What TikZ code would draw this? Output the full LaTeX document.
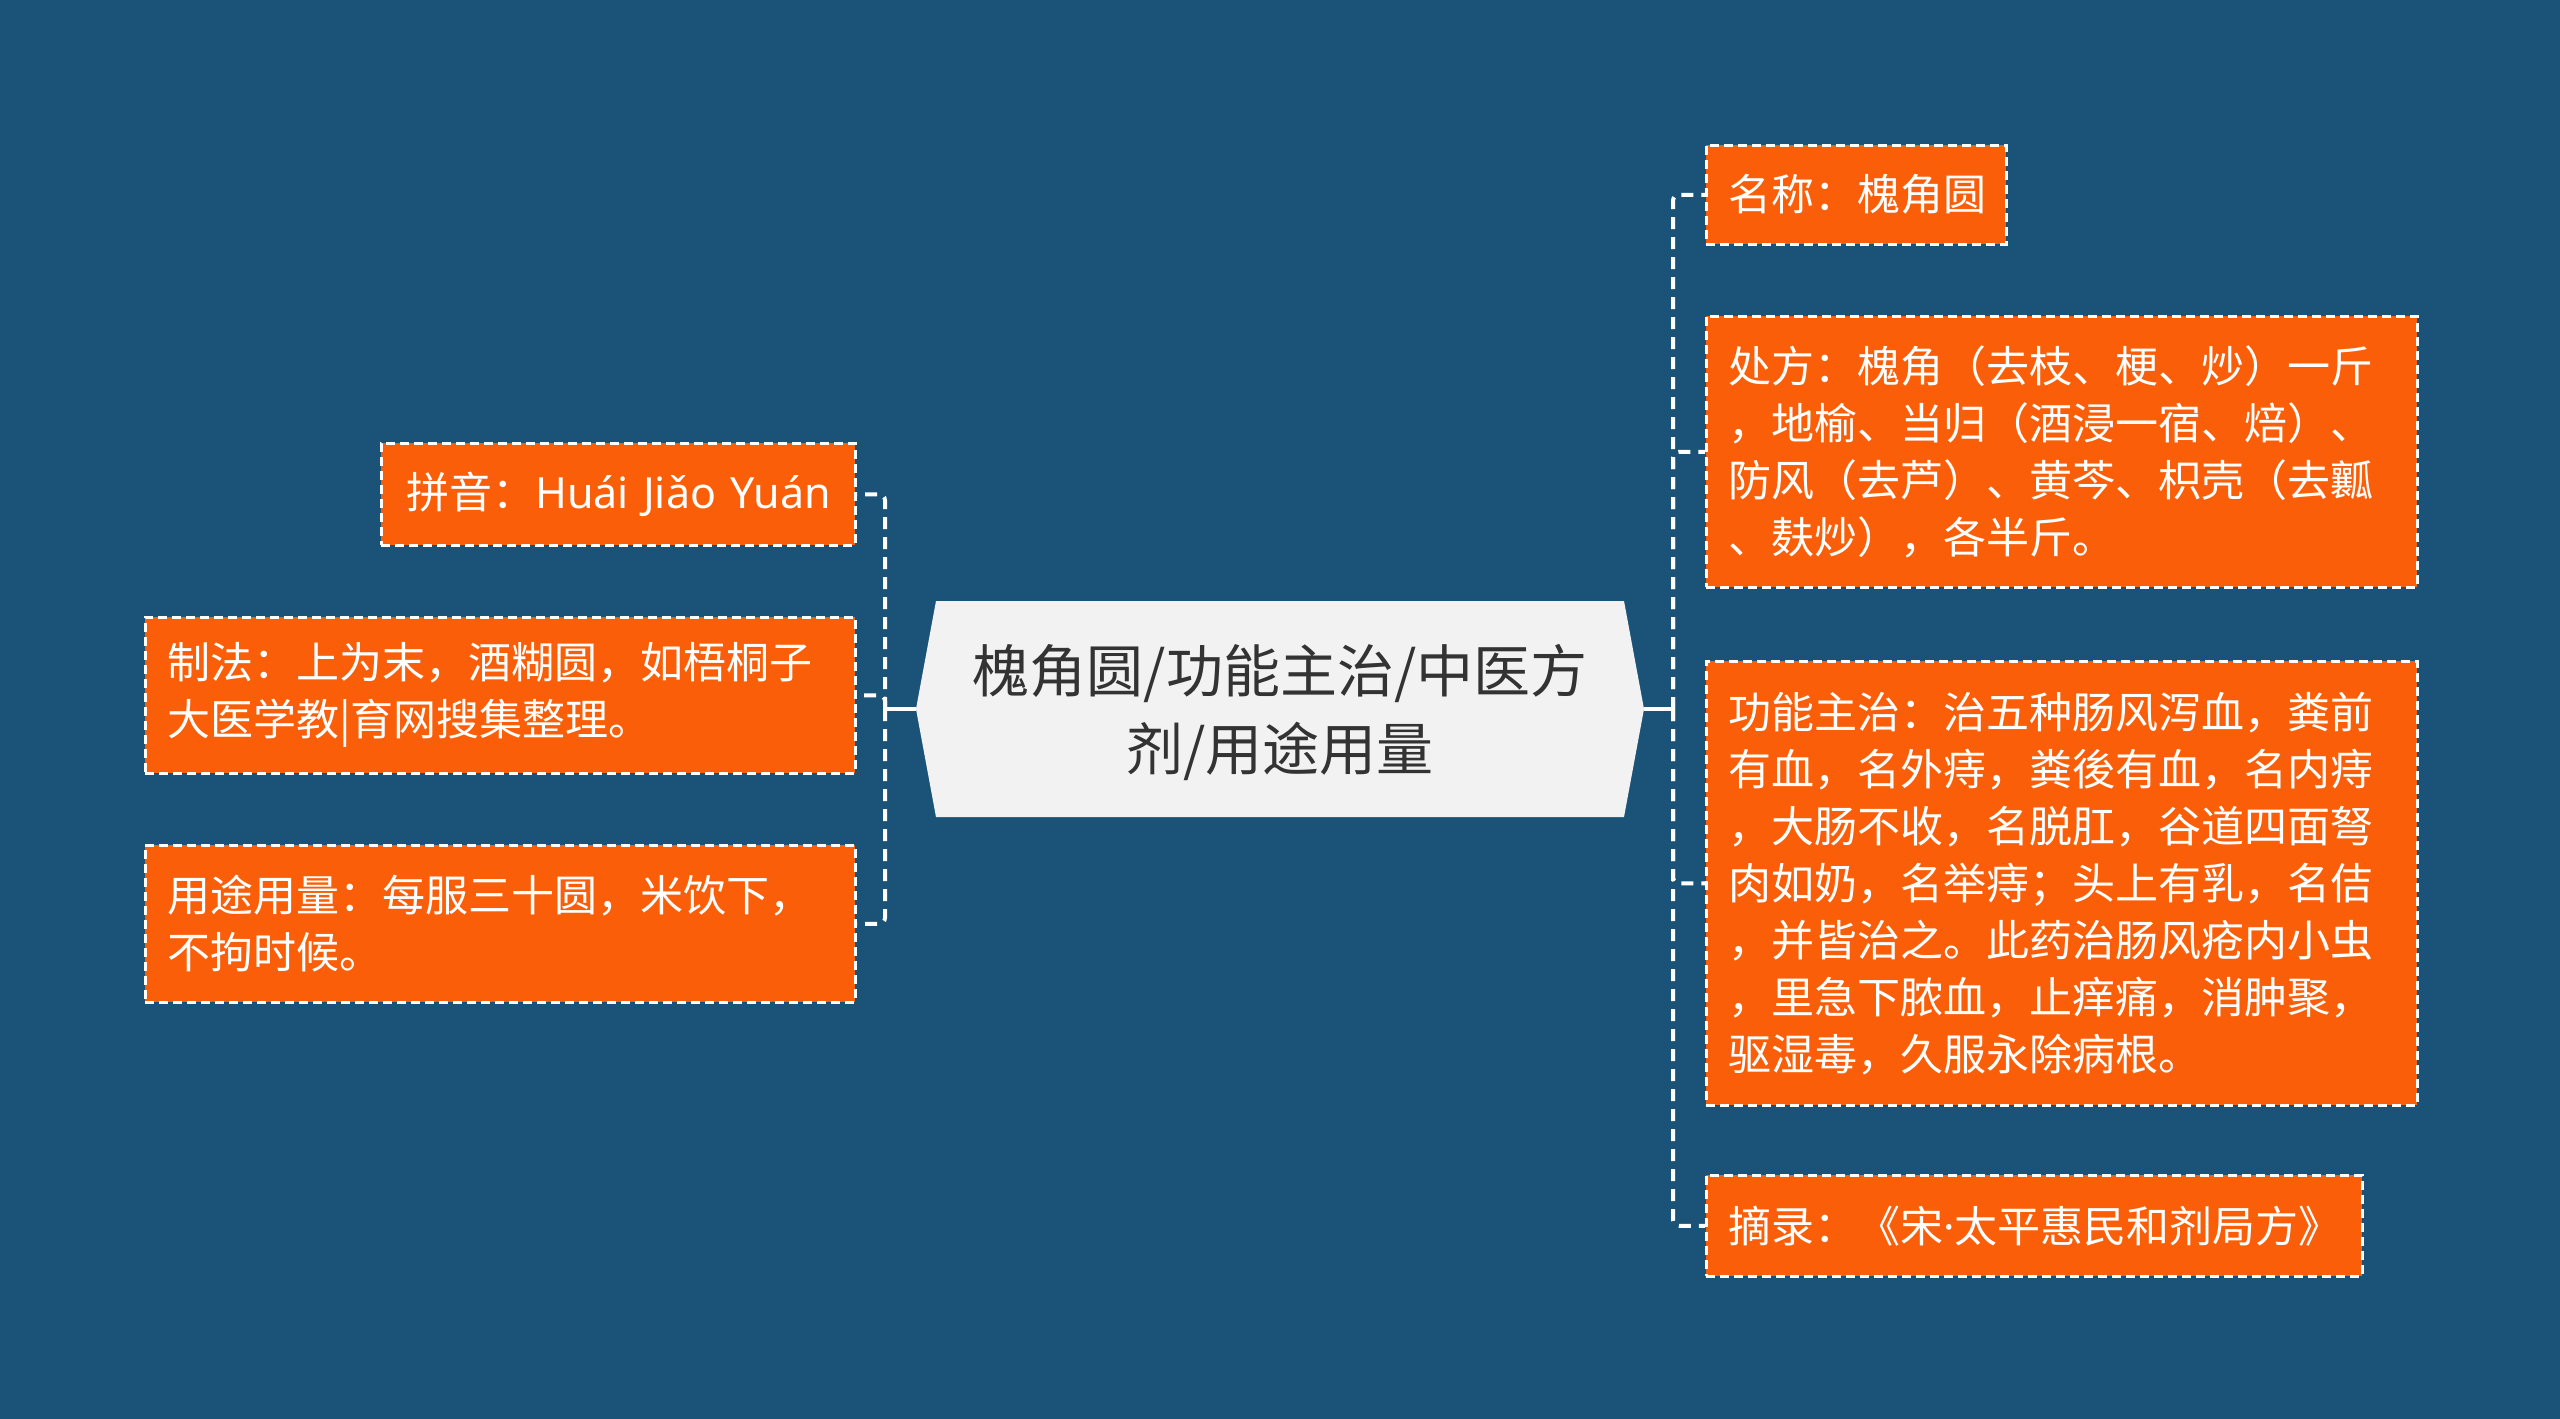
\documentclass[tikz,border=0pt]{standalone}
\usepackage{fontspec}
\setmainfont{Noto Sans CJK SC}
\newfontfamily\latinfont{Noto Sans}
\definecolor{bg}{HTML}{1A5377}
\definecolor{og}{HTML}{FA5E08}
\definecolor{cg}{HTML}{F2F2F2}
\definecolor{tx}{HTML}{333333}
\begin{document}
\begin{tikzpicture}[x=1pt,y=-1pt,
  obox/.style={draw=white, fill=og, line width=2.5pt, dash pattern=on 9pt off 5pt,
    text=white, anchor=north west, inner xsep=22pt, inner ysep=0pt, align=left,
    font=\fontsize{43}{57}\selectfont},
  edgeline/.style={draw=white, line width=4pt, dash pattern=on 12pt off 8pt, rounded corners=6pt},
  stubline/.style={draw=white, line width=4pt}]
\useasboundingbox[fill=bg] (0,0) rectangle (2560,1419);
% central node
\fill[cg] (936,601) -- (1624,601) -- (1644,709) -- (1624,817) -- (936,817) -- (916,709) -- cycle;
\node[text=tx, align=center, inner sep=0pt, font=\fontsize{57}{78}\selectfont] (c) at (1280,712)
  {槐角圆/功能主治/中医方\\剂/用途用量};
\coordinate (cl) at (916,709);
\coordinate (cr) at (1644,709);
\coordinate (sl) at (885,709);
\coordinate (sr) at (1673,709);
% right children
\node[obox, minimum height=99pt, text width=256pt] (r1) at (1705,144) {名称：槐角圆};
\node[obox, minimum height=271pt, text width=667pt] (r2) at (1705,315)
  {处方：槐角（去枝、梗、炒）一斤\\，地榆、当归（酒浸一宿、焙）、\\防风（去芦）、黄芩、枳壳（去瓤\\、麸炒），各半斤。};
\node[obox, minimum height=444pt, text width=667pt] (r3) at (1705,660)
  {功能主治：治五种肠风泻血，粪前\\有血，名外痔，粪後有血，名内痔\\，大肠不收，名脱肛，谷道四面弩\\肉如奶，名举痔；头上有乳，名佶\\，并皆治之。此药治肠风疮内小虫\\，里急下脓血，止痒痛，消肿聚，\\驱湿毒，久服永除病根。};
\node[obox, minimum height=101pt, text width=612pt] (r4) at (1705,1174)
  {摘录：《宋{\latinfont ·}太平惠民和剂局方》};
% left children
\node[obox, minimum height=102pt, text width=430pt, inner xsep=22pt] (l1) at (380,442)
  {\mbox{\hspace*{3pt}拼音：{\latinfont Huái Jiǎo Yuán}}};
\node[obox, minimum height=156pt, text width=666pt] (l2) at (144,616)
  {制法：上为末，酒糊圆，如梧桐子\\大医学教|育网搜集整理。};
\node[obox, minimum height=157pt, text width=666pt] (l3) at (144,844)
  {用途用量：每服三十圆，米饮下，\\不拘时候。};
% connectors
\draw[stubline] (cr) -- (sr);
\draw[stubline] (cl) -- (sl);
\foreach \n in {r1,r2,r3,r4} \draw[edgeline] (sr) |- (\n.west);
\foreach \n in {l1,l2,l3} \draw[edgeline] (sl) |- (\n.east);
\end{tikzpicture}
\end{document}
